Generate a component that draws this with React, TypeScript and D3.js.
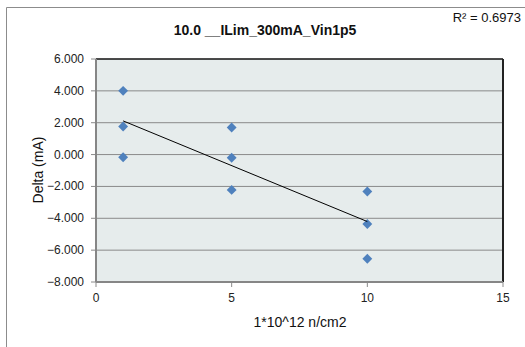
import React from "react";
import * as d3 from "d3";

const xValues = [1, 1, 1, 5, 5, 5, 10, 10, 10];
const yValues = [4.0, 1.76, -0.17, 1.7, -0.2, -2.22, -2.32, -4.36, -6.54];
const xTicks = [0, 5, 10, 15];
const yTicks = [6, 4, 2, 0, -2, -4, -6, -8];
const title = "10.0 __ILim_300mA_Vin1p5";
const xLabel = "1*10^12 n/cm2";
const yLabel = "Delta (mA)";
const r2Label = "R² = 0.6973";

const W = 525, H = 347;
const L = 96, R = 503, T = 59, B = 282;

export default function App() {
  const x = d3.scaleLinear().domain([0, 15]).range([L, R]);
  const y = d3.scaleLinear().domain([-8, 6]).range([B, T]);
  const n = xValues.length;
  const mx = d3.mean(xValues)!;
  const my = d3.mean(yValues)!;
  let sxy = 0, sxx = 0;
  for (let i = 0; i < n; i++) {
    sxy += (xValues[i] - mx) * (yValues[i] - my);
    sxx += (xValues[i] - mx) ** 2;
  }
  const slope = sxy / sxx;
  const icpt = my - slope * mx;
  const x0 = d3.min(xValues)!, x1 = d3.max(xValues)!;
  const line = d3.line<number>().x((d) => x(d)).y((d) => y(icpt + slope * d));
  const diamond = d3.symbol().type(d3.symbolDiamond2).size(62)()!;
  const font = "'Liberation Sans', Arial, sans-serif";
  return (
    <svg width={W} height={H} style={{ position: "absolute", left: 0, top: 0, fontFamily: font }}>
      <rect x={0} y={0} width={W} height={H} fill="#fff" />
      <path d={`M6.5,${H} V7.5 H${W}`} fill="none" stroke="#8c8c8c" strokeWidth={1} />
      <rect x={L} y={T} width={R - L} height={B - T} fill="#e6ecec" />
      {yTicks.map((t) => (
        <g key={t}>
          {t !== -8 && t !== 6 && (
            <line x1={L} x2={R} y1={y(t)} y2={y(t)} stroke="#8a8a8a" strokeWidth={1} />
          )}
          <line x1={L - 5} x2={L} y1={y(t)} y2={y(t)} stroke="#8a8a8a" />
          <text x={84} y={y(t) + 4} textAnchor="end" fontSize={12} fill="#222">
            {d3.format(".3f")(t)}
          </text>
        </g>
      ))}
      {xTicks.map((t) => (
        <g key={t}>
          <line x1={x(t)} x2={x(t)} y1={B} y2={B + 5} stroke="#8a8a8a" />
          <text x={x(t)} y={302} textAnchor="middle" fontSize={12} fill="#222">
            {t}
          </text>
        </g>
      ))}
      <line x1={L} x2={R} y1={T} y2={T} stroke="#111" strokeWidth={1.5} />
      <line x1={R} x2={R} y1={T} y2={B} stroke="#222" strokeWidth={2} />
      <line x1={L} x2={L} y1={T} y2={B} stroke="#868686" strokeWidth={2} />
      <line x1={L} x2={R} y1={B} y2={B} stroke="#868686" strokeWidth={2} />
      {xValues.map((xv, i) => (
        <path key={i} d={diamond} transform={`translate(${x(xv)},${y(yValues[i])})`} fill="#4f81bd" />
      ))}
      <path d={line([x0, x1]) || ""} stroke="#000" strokeWidth={1} fill="none" />
      <text x={265} y={35} textAnchor="middle" fontSize={14} fontWeight="bold" fill="#111">
        {title}
      </text>
      <text x={521} y={22} textAnchor="end" fontSize={13} fill="#111">
        {r2Label}
      </text>
      <text x={300} y={327} textAnchor="middle" fontSize={14} fill="#111">
        {xLabel}
      </text>
      <text transform={`translate(43,170) rotate(-90)`} textAnchor="middle" fontSize={14} fill="#111">
        {yLabel}
      </text>
    </svg>
  );
}
